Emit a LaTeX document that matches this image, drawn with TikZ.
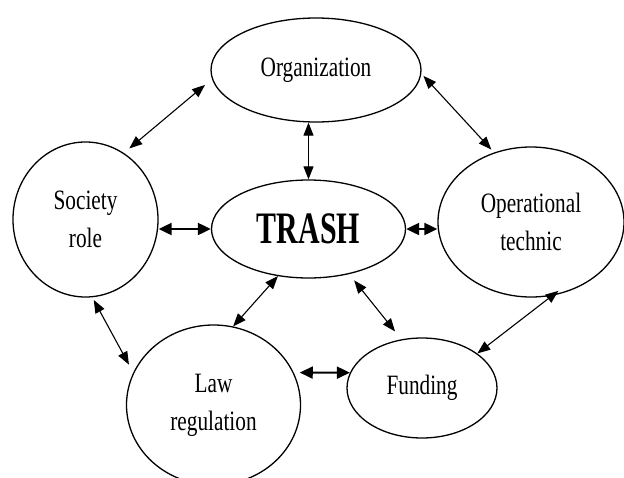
\documentclass[tikz,border=0pt]{standalone}
\usepackage{fontspec}
\setmainfont{Liberation Serif}[FakeStretch=0.76]
\newfontfamily\trashfont{Liberation Serif}[FakeStretch=0.665]
\usetikzlibrary{shapes.geometric,arrows.meta,calc}
\begin{document}
\begin{tikzpicture}[x=1pt,y=-1pt,
  bub/.style={ellipse,draw,line width=1.3pt,inner sep=0pt,align=center,
    font=\fontsize{28}{38}\selectfont},
  link/.style={arrows={Triangle[length=13pt,width=10pt]-Triangle[length=13pt,width=10pt]},line width=1.1pt},
  hlink/.style={arrows={Triangle[length=13pt,width=12pt]-Triangle[length=13pt,width=12pt]},line width=2pt}]
\useasboundingbox (0,0) rectangle (624,477);
\fill[white] (0,0) rectangle (624,477);
\node[bub,minimum width=210pt,minimum height=104pt] (org) at (316,70) {Organization};
\node[bub,minimum width=194pt,minimum height=98pt] (trash) at (308.5,229)
  {\trashfont\bfseries\fontsize{45}{50}\selectfont TRASH};
\node[bub,minimum width=145pt,minimum height=155pt] (soc) at (85.5,219.5) {Society\\role};
\node[bub,minimum width=186pt,minimum height=150pt] (op) at (531,222) {Operational\\technic};
\node[bub,minimum width=174pt,minimum height=160pt] (law) at (213.5,405) {Law\\regulation};
\node[bub,minimum width=150pt,minimum height=100pt] (fund) at (422,388) {Funding};
\draw[link, shorten <=9pt, shorten >=7pt] (org.185) -- (soc.60);
\draw[link] (org.south -| trash.north) -- (trash.north);
\draw[link, shorten <=3pt, shorten >=4pt] (org.358) -- (op.118);
\draw[hlink] (soc.east |- trash.west) -- (trash.west);
\draw[hlink] (trash.east) -- (trash.east -| op.west);
\draw[link] (trash.237) -- (law.76);
\draw[link, shorten <=8pt, shorten >=10pt] (trash.312) -- (fund.113);
\draw[link, shorten <=-8pt] (op.286) -- (fund.32);
\draw[link, shorten <=3pt, shorten >=9pt] (soc.275) -- (law.158);
\draw[hlink, shorten <=6pt] (law.22) -- (fund.168);
\end{tikzpicture}
\end{document}
